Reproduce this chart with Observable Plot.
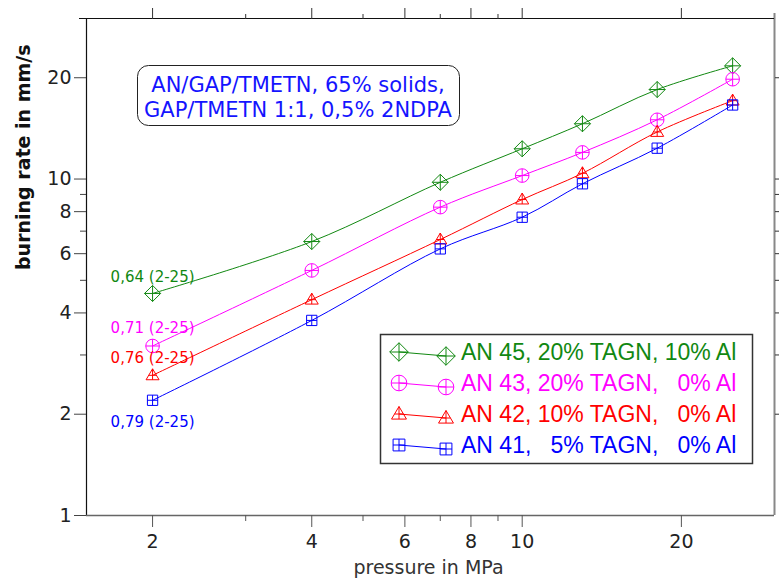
<!DOCTYPE html>
<html><head><meta charset="utf-8">
<script src="https://cdn.jsdelivr.net/npm/d3@7"></script>
<script src="https://cdn.jsdelivr.net/npm/@observablehq/plot@0.6"></script>
<style>
body{margin:0;background:#fff;}
#wrap{position:relative;width:779px;height:583px;background:#fff;}
#overlay{position:absolute;left:0;top:0;pointer-events:none;}
</style></head><body><div id="wrap"></div>
<script>
// ---- data ----
const pressure = [2, 4, 7, 10, 13, 18, 25];
const an45 = [4.57, 6.52, 9.78, 12.3, 14.6, 18.45, 21.7];
const an43 = [3.19, 5.35, 8.25, 10.24, 12.0, 15.0, 19.8];
const an42 = [2.61, 4.38, 6.61, 8.69, 10.4, 13.8, 17.1];
const an41 = [2.20, 3.80, 6.20, 7.70, 9.68, 12.35, 16.6];
const seriesNames = ["AN 45, 20% TAGN, 10% Al", "AN 43, 20% TAGN,   0% Al", "AN 42, 10% TAGN,   0% Al", "AN 41,   5% TAGN,   0% Al"];
const exponents = ["0,64 (2-25)", "0,71 (2-25)", "0,76 (2-25)", "0,79 (2-25)"];
const noteLines = ["AN/GAP/TMETN, 65% solids,", "GAP/TMETN 1:1, 0,5% 2NDPA"];
const xMajor = [2, 4, 6, 8, 10, 20];
const xMinor = [3, 5, 7, 9];
const yMajor = [1, 2, 4, 6, 8, 10, 20];
const yMinor = [3, 5, 7, 9];
const xDomain = [1.5, 30];
const yDomain = [1, 30];
const xLabel = "pressure in MPa";
const yLabel = "burning rate in mm/s";

// ---- styles ----
const colors = ["#118811", "#ff00ff", "#ff0000", "#0000ff"];
const series = [an45, an43, an42, an41];

function shape(kind) {
  return {
    draw(ctx, size) {
      const R = Math.sqrt(size / Math.PI);
      if (kind === "diamond") {
        const h = R * 1.15;
        ctx.moveTo(0, -h); ctx.lineTo(h, 0); ctx.lineTo(0, h); ctx.lineTo(-h, 0); ctx.closePath();
        ctx.moveTo(0, -h); ctx.lineTo(0, h); ctx.moveTo(-h, 0); ctx.lineTo(h, 0);
      } else if (kind === "circle") {
        ctx.moveTo(R, 0); ctx.arc(0, 0, R, 0, 2 * Math.PI);
        ctx.moveTo(0, -R); ctx.lineTo(0, R); ctx.moveTo(-R, 0); ctx.lineTo(R, 0);
      } else if (kind === "triangle") {
        const top = -R, base = 0.68 * R, hw = R;
        ctx.moveTo(0, top); ctx.lineTo(hw, base); ctx.lineTo(-hw, base); ctx.closePath();
        ctx.moveTo(0, top); ctx.lineTo(0, base);
        const w = hw * (0 - top) / (base - top);
        ctx.moveTo(-w, 0); ctx.lineTo(w, 0);
      } else {
        const s = R * 0.78;
        ctx.moveTo(-s, -s); ctx.lineTo(s, -s); ctx.lineTo(s, s); ctx.lineTo(-s, s); ctx.closePath();
        ctx.moveTo(0, -s); ctx.lineTo(0, s); ctx.moveTo(-s, 0); ctx.lineTo(s, 0);
      }
    }
  };
}
const symbols = [shape("diamond"), shape("circle"), shape("triangle"), shape("square")];
const radii = [7, 6.8, 6.5, 6.6];
const labelDy = [-16, -18, -17, 22];

const marks = [];
// frame
marks.push(Plot.ruleX([xDomain[0]], {stroke: "#111", strokeWidth: 1.2}));
marks.push(Plot.ruleX([xDomain[1]], {stroke: "#888", strokeWidth: 2, insetTop: -5}));
marks.push(Plot.ruleY([yDomain[0]], {stroke: "#666", strokeWidth: 1.5}));
marks.push(Plot.ruleY([yDomain[1]], {stroke: "#111", strokeWidth: 1.2, insetLeft: -7}));
// axes
marks.push(Plot.axisX({ticks: xMajor, tickSize: 12, tickPadding: 7, label: null, tickFormat: d => String(d), stroke: "#555", fill: "#222"}));
marks.push(Plot.axisX({ticks: xMinor, tickSize: 6, fill: "none", label: null, stroke: "#555"}));
marks.push(Plot.axisX({anchor: "top", ticks: xMajor, tickSize: 11, fill: "none", label: null, stroke: "#333"}));
marks.push(Plot.axisX({anchor: "top", ticks: xMinor, tickSize: 5, fill: "none", label: null, stroke: "#333"}));
marks.push(Plot.axisY({ticks: yMajor, tickSize: 12, tickPadding: 3, label: null, tickFormat: d => String(d), stroke: "#444", fill: "#222"}));
marks.push(Plot.axisY({ticks: yMinor, tickSize: 6, fill: "none", label: null, stroke: "#444"}));
marks.push(Plot.axisY({anchor: "right", ticks: yMajor.slice(1).concat(yMinor), tickSize: 6, fill: "none", label: null, stroke: "#333"}));
// axis titles
marks.push(Plot.text([xLabel], {frameAnchor: "bottom", dx: -2, dy: 52, fill: "#333", fontSize: 19, lineAnchor: "middle"}));
marks.push(Plot.text([yLabel], {frameAnchor: "left", dx: -63, dy: 3, rotate: -90, fill: "#111", fontSize: 19, fontWeight: "bold", lineAnchor: "middle"}));
// data
series.forEach((vals, k) => {
  const data = pressure.map((p, i) => ({p, v: vals[i]}));
  marks.push(Plot.line(data, {x: "p", y: "v", stroke: colors[k], strokeWidth: 1, curve: "catmull-rom"}));
  marks.push(Plot.dot(data, {x: "p", y: "v", symbol: symbols[k], r: radii[k], stroke: colors[k], fill: "none", strokeWidth: 1}));
  marks.push(Plot.text([{p: pressure[0], v: vals[0], t: exponents[k]}], {x: "p", y: "v", text: "t", dy: labelDy[k], fill: colors[k], fontSize: 15, textAnchor: "middle", lineAnchor: "middle"}));
});

const chart = Plot.plot({
  width: 779, height: 583,
  marginLeft: 86, marginRight: 5, marginTop: 18, marginBottom: 68,
  style: {fontFamily: "DejaVu Sans", fontSize: "19px", color: "#222", background: "white"},
  x: {type: "log", domain: xDomain},
  y: {type: "log", domain: yDomain},
  marks
});
const wrap = document.getElementById("wrap");
wrap.appendChild(chart);

// ---- overlay: annotation box + legend ----
const ov = d3.select(wrap).append("svg").attr("id", "overlay").attr("width", 779).attr("height", 583);
ov.append("rect").attr("x", 137.5).attr("y", 65.5).attr("width", 322).attr("height", 60).attr("rx", 11)
  .attr("fill", "white").attr("stroke", "#222").attr("stroke-width", 1);
noteLines.forEach((t, i) => {
  ov.append("text").attr("x", 298).attr("y", 92 + i * 24.5).attr("text-anchor", "middle")
    .attr("font-family", "DejaVu Sans").attr("font-size", 21).attr("fill", "#1414ff").text(t);
});
ov.append("rect").attr("x", 380.5).attr("y", 334.5).attr("width", 372).attr("height", 129)
  .attr("fill", "white").attr("stroke", "#333").attr("stroke-width", 1.5);
seriesNames.forEach((name, k) => {
  const y0 = 352 + k * 31, y1 = y0 + 4;
  const g = ov.append("g").attr("stroke", colors[k]).attr("fill", "none");
  g.append("line").attr("x1", 399).attr("y1", y0).attr("x2", 446).attr("y2", y1);
  const rr = radii[k] * 1.15;
  const path = d3.symbol().type(symbols[k]).size(rr * rr * Math.PI)();
  g.append("path").attr("d", path).attr("transform", `translate(399,${y0})`);
  g.append("path").attr("d", path).attr("transform", `translate(446,${y1})`);
  ov.append("text").attr("x", 461).attr("y", 359.5 + k * 31.2).attr("font-family", "Liberation Sans")
    .attr("font-size", 23).attr("fill", colors[k]).style("white-space", "pre").text(name);
});
</script></body></html>
